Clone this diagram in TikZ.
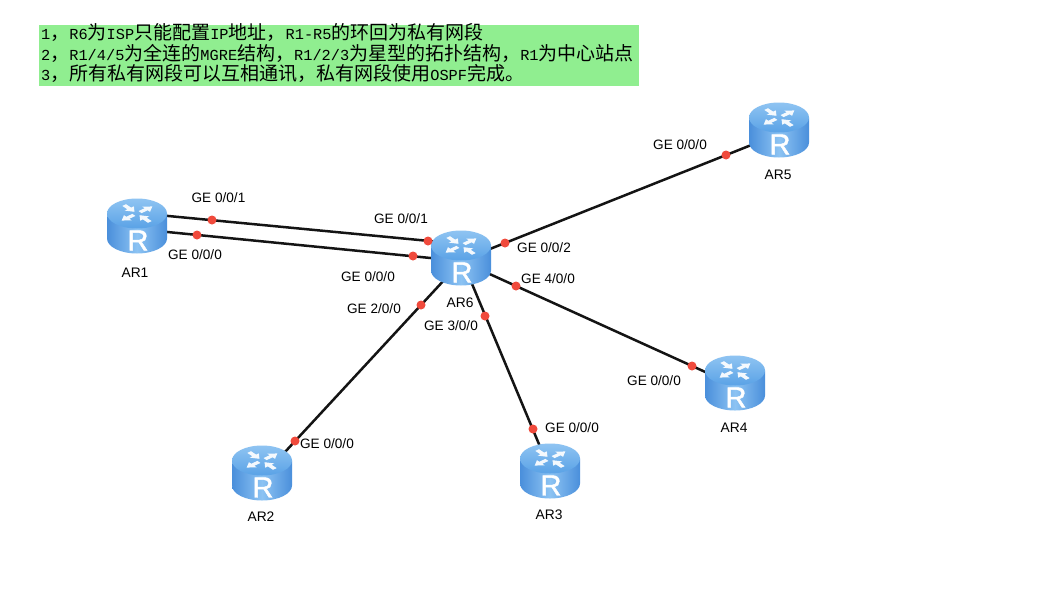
\documentclass[tikz,border=0pt]{standalone}
\usepackage{fontspec}
\setmainfont{Liberation Sans}
\newfontfamily\cjkfont{Noto Sans CJK SC}
\newfontfamily\monofont{Liberation Mono}
\usetikzlibrary{calc}
\definecolor{notegreen}{HTML}{90EE90}
\definecolor{sideL}{HTML}{4A8FDB}
\definecolor{sideM}{HTML}{8CC3F3}
\definecolor{topA}{HTML}{8FC4F2}
\definecolor{topB}{HTML}{5AA2E6}
\definecolor{dotred}{HTML}{F04A3C}
\definecolor{linkcol}{HTML}{141414}
\newcommand{\Z}[1]{{\cjkfont\fontsize{19}{19}\selectfont #1}}
\newcommand{\M}[1]{{\monofont\fontsize{15.3}{19}\selectfont #1}}
\tikzset{
  link/.style={line width=2.5pt,draw=linkcol},
  portdot/.style={circle,fill=dotred,inner sep=0pt,minimum size=9pt},
  portlabel/.style={font=\fontsize{13.6}{15}\selectfont,text=black,inner sep=0pt,yshift=-1pt},
  routername/.style={font=\fontsize{13.8}{15}\selectfont,text=black,inner sep=0pt},
  noteline/.style={anchor=west,inner sep=0pt,text=black},
  routerbox/.style={inner sep=0pt,minimum width=60pt,minimum height=56pt},
  routerletter/.style={text=white,inner sep=0pt,draw=none,font=\fontsize{29}{29}\selectfont\addfontfeature{FakeBold=1.6}}
}
\newcommand{\routerat}[3]{%
  \begin{scope}[shift={(#2,#3)}]
    \shade[left color=sideL,right color=sideL,middle color=sideM,shading angle=90]
      (-30pt,12pt) -- (-30pt,-13pt) arc[start angle=180,end angle=360,x radius=30pt,y radius=15pt]
      -- (30pt,12pt) -- cycle;
    \shade[top color=topA,bottom color=topB] (0pt,12pt) ellipse[x radius=30pt,y radius=15pt];
    \begin{scope}[shift={(0pt,12pt)},yscale=.55]
      \foreach \a/\d in {40/1,130/-1,220/1,310/-1}{
        \begin{scope}[rotate=\a]
          \ifnum\d=1
          \fill[white,fill opacity=.92] (4pt,-2.4pt) -- (12pt,-2.4pt) -- (12pt,-6pt) -- (20pt,0pt) -- (12pt,6pt) -- (12pt,2.4pt) -- (4pt,2.4pt) -- cycle;
          \else
          \fill[white,fill opacity=.92] (20pt,-2.4pt) -- (12pt,-2.4pt) -- (12pt,-6pt) -- (4pt,0pt) -- (12pt,6pt) -- (12pt,2.4pt) -- (20pt,2.4pt) -- cycle;
          \fi
        \end{scope}
      }
    \end{scope}
    \node[routerletter] (#1-R) at (1pt,-15pt) {R};
  \end{scope}%
}
\begin{document}
\begin{tikzpicture}[x=1pt,y=-1pt]
\path[use as bounding box,fill=white] (0,0) rectangle (1043,613);
\fill[notegreen] (39,25) rectangle (639,86);
\node[routerbox] (ar1) at (137,225.5) {};
\node[routerbox] (ar2) at (262,472.5) {};
\node[routerbox] (ar3) at (550,470.5) {};
\node[routerbox] (ar4) at (735,382.5) {};
\node[routerbox] (ar5) at (779,129.5) {};
\node[routerbox] (ar6) at (461,257.5) {};
\draw[link] ([yshift=12.5pt]ar1.center) -- ([yshift=13.5pt]ar6.center);
\draw[link] ([yshift=-3.5pt]ar1.center) -- ([yshift=-3.5pt]ar6.center);
\draw[link] ([yshift=-3pt]ar6.center) -- ([yshift=-4.5pt]ar5.center);
\draw[link] ([xshift=4pt]ar6.center) -- ([xshift=4pt]ar2.center);
\draw[link] (ar6.center) -- (ar3.center);
\draw[link] ([yshift=-3.5pt]ar6.center) -- ([yshift=-3pt]ar4.center);
\routerat{r1}{137}{225.5}
\routerat{r2}{262}{472.5}
\routerat{r3}{550}{470.5}
\routerat{r4}{735}{382.5}
\routerat{r5}{779}{129.5}
\routerat{r6}{461}{257.5}
\node[portdot] (d1) at (212,220) {};
\node[portdot] (d2) at (428,241) {};
\node[portdot] (d3) at (197,235) {};
\node[portdot] (d4) at (413,256) {};
\node[portdot] (d5) at (505,243) {};
\node[portdot] (d6) at (726,155) {};
\node[portdot] (d7) at (421,305) {};
\node[portdot] (d8) at (295,441) {};
\node[portdot] (d9) at (485,316) {};
\node[portdot] (d10) at (533,429) {};
\node[portdot] (d11) at (516,286) {};
\node[portdot] (d12) at (692,366) {};
\node[portlabel] (l1) at (218.5,197) {GE 0/0/1};
\node[portlabel] (l2) at (401,218) {GE 0/0/1};
\node[portlabel] (l3) at (195,254) {GE 0/0/0};
\node[portlabel] (l4) at (368,276) {GE 0/0/0};
\node[portlabel] (l5) at (544,247) {GE 0/0/2};
\node[portlabel] (l6) at (548,278) {GE 4/0/0};
\node[portlabel] (l7) at (374,308) {GE 2/0/0};
\node[portlabel] (l8) at (451,325) {GE 3/0/0};
\node[portlabel] (l9) at (327,443) {GE 0/0/0};
\node[portlabel] (l10) at (572,427) {GE 0/0/0};
\node[portlabel] (l11) at (654,380) {GE 0/0/0};
\node[portlabel] (l12) at (680,144) {GE 0/0/0};
\node[routername] (n1) at (135,273) {AR1};
\node[routername] (n2) at (261,517) {AR2};
\node[routername] (n3) at (549,515) {AR3};
\node[routername] (n4) at (734,428) {AR4};
\node[routername] (n5) at (778,175) {AR5};
\node[routername] (n6) at (460,303) {AR6};
\node[noteline] (t1) at (41,32.5) {\M{1}\Z{，}\M{R6}\Z{为}\M{ISP}\Z{只能配置}\M{IP}\Z{地址，}\M{R1-R5}\Z{的环回为私有网段}};
\node[noteline] (t2) at (41,53) {\M{2}\Z{，}\M{R1/4/5}\Z{为全连的}\M{MGRE}\Z{结构，}\M{R1/2/3}\Z{为星型的拓扑结构，}\M{R1}\Z{为中心站点}};
\node[noteline] (t3) at (41,73) {\M{3}\Z{，所有私有网段可以互相通讯，私有网段使用}\M{OSPF}\Z{完成。}};
\end{tikzpicture}
\end{document}
